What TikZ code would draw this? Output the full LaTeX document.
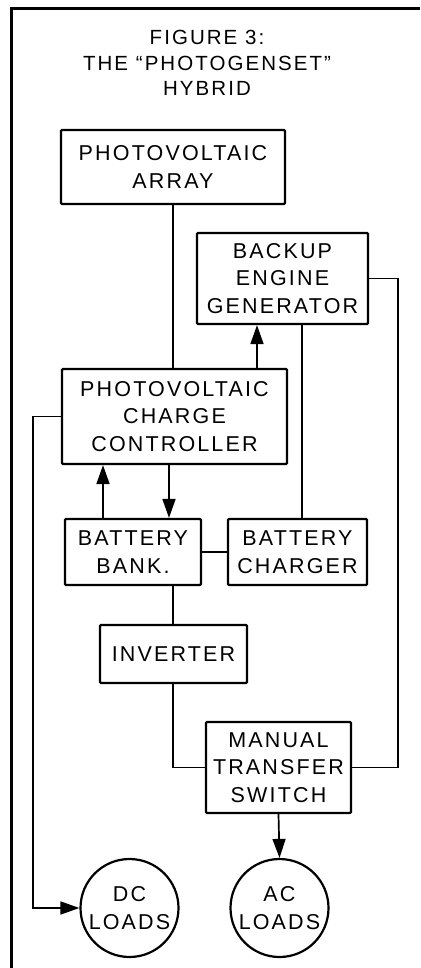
\documentclass[tikz,border=0pt]{standalone}
\usepackage{fontspec}
\setmainfont{Liberation Sans}
\newfontfamily\boxfont{Liberation Sans}[LetterSpace=10, Ligatures=TeX]
\usetikzlibrary{arrows.meta}

\begin{document}
\begin{tikzpicture}[x=1pt, y=-1pt,
    box/.style={draw, line width=2.2pt, rounded corners=1pt, align=center, inner sep=0pt,
        font=\boxfont\fontsize{21.5}{27.5}\selectfont},
    loadcircle/.style={draw, circle, line width=2.2pt, minimum size=98pt, inner sep=0pt, align=center,
        font=\boxfont\fontsize{21.5}{27.5}\selectfont},
    wire/.style={line width=1.7pt},
    arr/.style={line width=1.7pt, -{Triangle[length=19pt, width=13pt]}}]
\useasboundingbox (0,0) rectangle (420,968);

% Frame
\draw[line width=3pt] (420,9) -- (11,9) -- (11,968);

% Title
\node[align=center, font=\boxfont\fontsize{20.5}{25.5}\selectfont] (title) at (207,63)
    {FIGURE 3:\\THE ``PHOTOGENSET''\\HYBRID};

% Boxes
\node[box, minimum width=224pt, minimum height=74pt] (pv) at (173,167) {PHOTOVOLTAIC\\ARRAY};
\node[box, minimum width=171pt, minimum height=91pt] (gen) at (282.5,278.5) {BACKUP\\ENGINE\\GENERATOR};
\node[box, minimum width=225pt, minimum height=95pt] (ctrl) at (174.5,416.5) {PHOTOVOLTAIC\\CHARGE\\CONTROLLER};
\node[box, minimum width=136pt, minimum height=66pt] (bank) at (133,552) {BATTERY\\BANK.};
\node[box, minimum width=139pt, minimum height=66pt] (charger) at (297.5,552) {BATTERY\\CHARGER};
\node[box, minimum width=147pt, minimum height=58pt] (inv) at (173.5,654) {INVERTER};
\node[box, minimum width=145pt, minimum height=91pt] (mts) at (278.5,767.5) {MANUAL\\TRANSFER\\SWITCH};
\node[loadcircle] (dc) at (129.5,908) {DC\\LOADS};
\node[loadcircle] (ac) at (279.5,908) {AC\\LOADS};

% Connections
\draw[wire] (pv.south) -- (pv.south |- ctrl.north);
\draw[arr] (257,0 |- ctrl.north) -- (257,0 |- gen.south);
\draw[wire] (302,0 |- gen.south) -- (302,0 |- charger.north);
\draw[wire] (gen.east) -- (398,0 |- gen.east) -- (398,0 |- mts.east) -- (mts.east);
\draw[arr] (ctrl.west) -- (33,0 |- ctrl.west) |- (dc.west);
\draw[arr] (103,0 |- bank.north) -- (103,0 |- ctrl.south);
\draw[arr] (169,0 |- ctrl.south) -- (169,0 |- bank.north);
\draw[wire] (bank.east) -- (charger.west);
\draw[wire] (173,0 |- bank.south) -- (173,0 |- inv.north);
\draw[wire] (173,0 |- inv.south) |- (mts.west);
\draw[arr] (mts.south) -- (ac.north);
\end{tikzpicture}
\end{document}
